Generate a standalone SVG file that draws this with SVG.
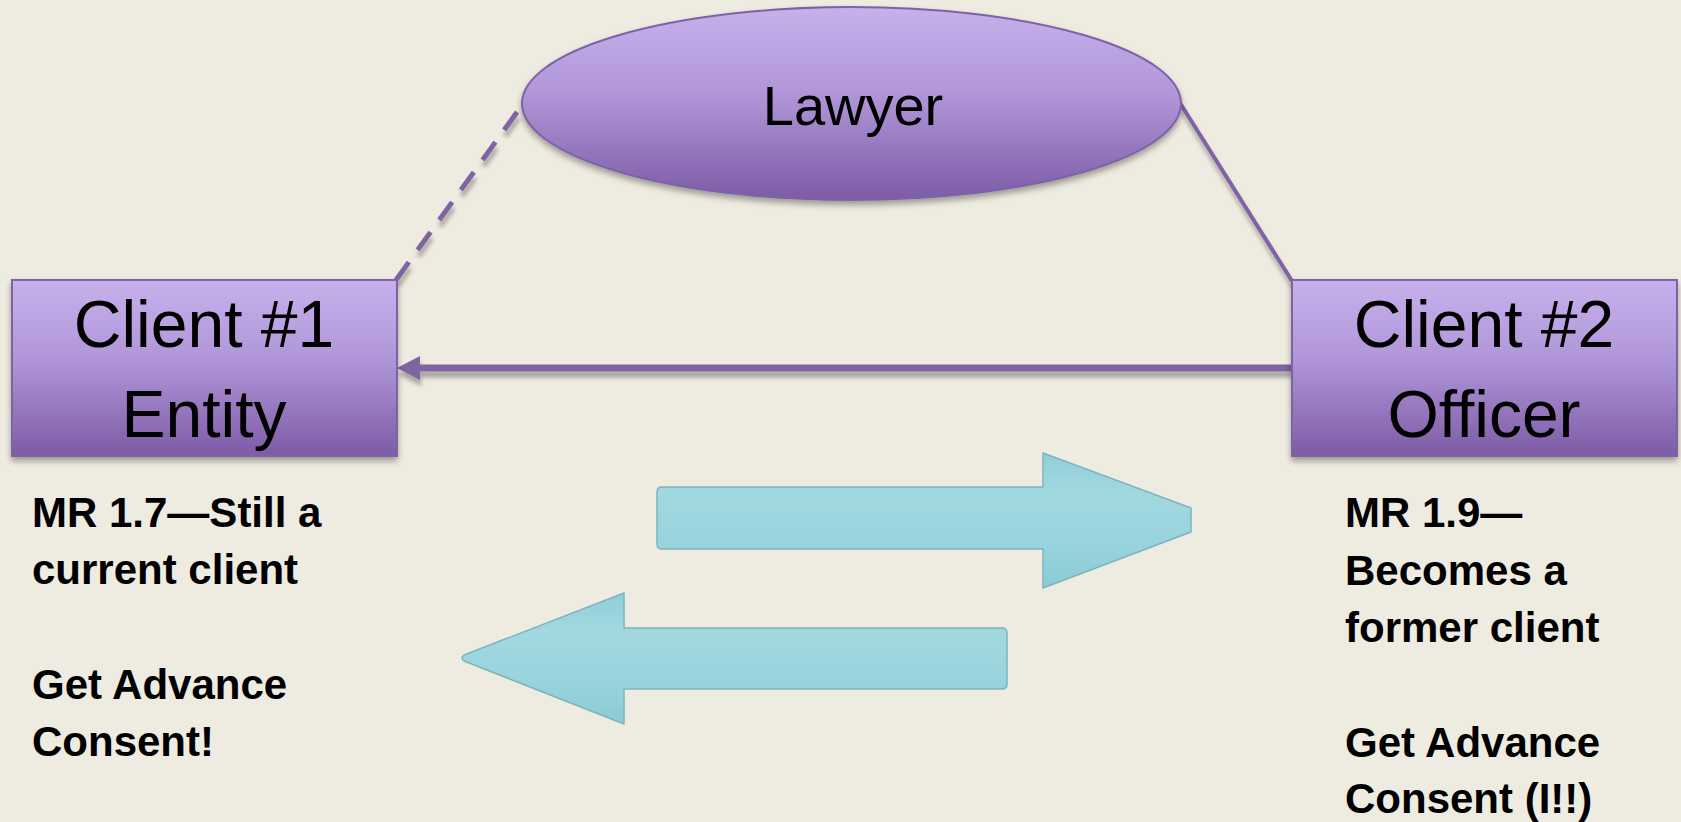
<svg xmlns="http://www.w3.org/2000/svg" width="1681" height="822" viewBox="0 0 1681 822">
  <defs>
    <linearGradient id="purp" x1="0" y1="0" x2="0" y2="1">
      <stop offset="0" stop-color="#C8B0EC"/>
      <stop offset="0.45" stop-color="#B096D8"/>
      <stop offset="1" stop-color="#7D5BA6"/>
    </linearGradient>
    <linearGradient id="cyan" x1="0" y1="0" x2="0" y2="1">
      <stop offset="0" stop-color="#8FCFDA"/>
      <stop offset="0.3" stop-color="#A2D8E0"/>
      <stop offset="0.7" stop-color="#98D3DD"/>
      <stop offset="1" stop-color="#8ACBD6"/>
    </linearGradient>
    <filter id="shadow" x="-10%" y="-10%" width="120%" height="130%">
      <feDropShadow dx="0" dy="4" stdDeviation="3" flood-color="#000" flood-opacity="0.35"/>
    </filter>
    <filter id="lshadow" filterUnits="userSpaceOnUse" x="0" y="0" width="1681" height="822">
      <feDropShadow dx="1" dy="6" stdDeviation="2" flood-color="#000" flood-opacity="0.3"/>
    </filter>
    <style>
      .box { fill: url(#purp); stroke: #7D62A6; stroke-width: 2; filter: url(#shadow); }
      .big { font-family: "Liberation Sans", Arial, sans-serif; font-size: 66px; fill: #000; text-anchor: middle; }
      .law { font-family: "Liberation Sans", Arial, sans-serif; font-size: 56px; fill: #000; text-anchor: middle; }
      .note { font-family: "Liberation Sans", Arial, sans-serif; font-size: 42px; font-weight: bold; fill: #000; }
      .conn { stroke: #8064A2; fill: none; filter: url(#lshadow); }
      .carrow { fill: url(#cyan); stroke: #7DB5BC; stroke-width: 1.5; stroke-linejoin: round; }
    </style>
  </defs>
  <rect x="0" y="0" width="1681" height="822" fill="#EEEBE0"/>

  <g id="connectors">
    <line class="conn" x1="396" y1="280" x2="520" y2="108" stroke-width="5" stroke-dasharray="22,15"/>
    <line class="conn" x1="1180" y1="103" x2="1292" y2="281" stroke-width="4"/>
    <path d="M1292,364.5 L420,364.5 L420,356 L397,368 L420,380 L420,371.5 L1292,371.5 z" fill="#8064A2" filter="url(#lshadow)"/>
  </g>

  <g id="lawyer">
    <ellipse cx="851.5" cy="103.5" rx="329.5" ry="96.5" fill="url(#purp)" stroke="#7D62A6" stroke-width="2" filter="url(#shadow)"/>
    <text class="law" x="853" y="125">Lawyer</text>
  </g>

  <g id="client1">
    <rect class="box" x="12" y="280" width="385" height="176"/>
    <text class="big" x="204" y="347">Client #1</text>
    <text class="big" x="204" y="437">Entity</text>
  </g>

  <g id="client2">
    <rect class="box" x="1292" y="280" width="385" height="176"/>
    <text class="big" x="1484" y="347">Client #2</text>
    <text class="big" x="1484" y="437">Officer</text>
  </g>

  <g id="arrow-right">
    <path class="carrow" d="M662,487 L1043,487 L1043,453 L1191,508 L1191,532 L1043,588 L1043,549 L662,549 Q657,549 657,544 L657,492 Q657,487 662,487 z"/>
  </g>

  <g id="arrow-left">
    <path class="carrow" d="M1002,628 L624,628 L624,593 L464,655 Q460,658 464,661 L624,724 L624,689 L1002,689 Q1007,689 1007,684 L1007,633 Q1007,628 1002,628 z"/>
  </g>

  <g id="note-left">
    <text class="note" x="32" y="527">MR 1.7—Still a</text>
    <text class="note" x="32" y="584">current client</text>
    <text class="note" x="32" y="699">Get Advance</text>
    <text class="note" x="32" y="756">Consent!</text>
  </g>

  <g id="note-right">
    <text class="note" x="1345" y="527">MR 1.9—</text>
    <text class="note" x="1345" y="585">Becomes a</text>
    <text class="note" x="1345" y="642">former client</text>
    <text class="note" x="1345" y="757">Get Advance</text>
    <text class="note" x="1345" y="813">Consent (I!!)</text>
  </g>
</svg>
